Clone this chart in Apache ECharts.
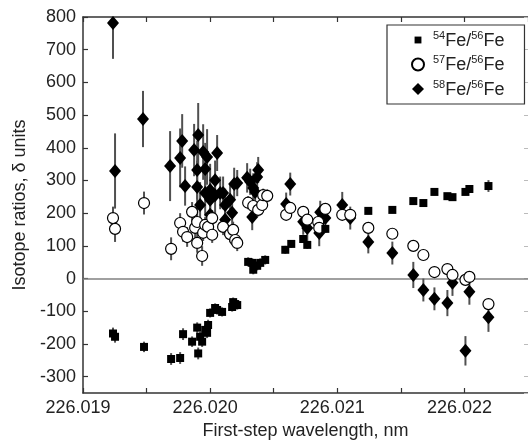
<!DOCTYPE html>
<html><head><meta charset="utf-8">
<script src="https://cdn.jsdelivr.net/npm/echarts@6/dist/echarts.min.js"></script>
<style>html,body{margin:0;padding:0;background:#fff}#c{width:528px;height:445px}</style>
</head><body><div id="c"></div>
<script>
// 54Fe/56Fe (squares)
const fe54X = [226.019236,226.019252,226.019480,226.019693,226.019764,226.019787,226.019858,226.019898,226.019906,226.019921,226.019937,226.019961,226.019976,226.019984,226.020000,226.020039,226.020055,226.020094,226.020173,226.020181,226.020197,226.020213,226.020299,226.020331,226.020339,226.020370,226.020394,226.020433,226.020591,226.020638,226.020732,226.020764,226.020906,226.021244,226.021433,226.021598,226.021677,226.021764,226.021866,226.021906,226.022008,226.022039,226.022189];
const fe54Y = [-168,-178,-209,-246,-243,-170,-193,-150,-229,-178,-193,-157,-166,-142,-105,-90,-96,-102,-87,-72,-78,-81,51,48,27,39,48,57,88,106,121,103,152,207,210,237,231,265,252,249,265,274,283];
const fe54Err = [18,18,16,18,18,18,16,16,18,16,16,16,16,16,14,14,14,14,14,14,14,14,14,14,14,14,14,14,12,12,12,12,12,10,10,10,10,10,10,10,10,10,18];

// 57Fe/56Fe (open circles)
const fe57X = [226.019236,226.019252,226.019480,226.019693,226.019764,226.019787,226.019819,226.019858,226.019882,226.019898,226.019898,226.019937,226.019945,226.019961,226.019984,226.020016,226.020016,226.020102,226.020157,226.020181,226.020197,226.020213,226.020299,226.020339,226.020378,226.020409,226.020417,226.020449,226.020598,226.020630,226.020732,226.020764,226.020850,226.020858,226.020906,226.021039,226.021102,226.021244,226.021433,226.021598,226.021677,226.021764,226.021866,226.021906,226.022008,226.022039,226.022189];
const fe57Y = [185,152,231,91,170,143,127,204,155,173,109,69,140,164,158,185,134,158,136,149,118,109,232,222,210,225,255,253,195,216,204,180,173,155,213,195,195,155,137,100,72,20,29,11,-4,5,-78];
const fe57Err = [35,40,35,35,30,30,30,30,30,30,30,30,25,25,25,25,25,25,25,25,25,25,20,20,20,20,20,20,15,15,15,15,15,15,15,15,15,12,12,12,12,12,12,12,12,12,12];

// 58Fe/56Fe (filled diamonds)
const fe58X = [226.019236,226.019252,226.019472,226.019685,226.019764,226.019780,226.019803,226.019874,226.019898,226.019898,226.019906,226.019921,226.019945,226.019961,226.019961,226.019976,226.020000,226.020000,226.020000,226.020039,226.020039,226.020055,226.020079,226.020102,226.020118,226.020118,226.020157,226.020173,226.020189,226.020213,226.020291,226.020315,226.020331,226.020339,226.020354,226.020370,226.020378,226.020598,226.020630,226.020732,226.020764,226.020858,226.020866,226.020906,226.021039,226.021102,226.021244,226.021433,226.021598,226.021677,226.021764,226.021866,226.021906,226.022008,226.022039,226.022189];
const fe58Y = [782,329,488,344,369,421,283,393,332,280,439,225,387,335,262,372,271,241,195,301,255,384,262,262,225,180,241,201,289,292,308,296,188,277,265,311,332,228,289,174,155,139,203,185,225,185,112,78,11,-35,-62,-75,-13,-221,-40,-118];
const fe58Err = [110,115,86,107,90,82,60,80,90,80,98,70,85,80,70,85,80,70,60,60,60,55,50,50,50,50,50,50,50,40,45,40,40,45,40,45,40,35,35,40,40,40,35,35,40,35,35,35,40,35,35,40,40,45,40,45];

const yTicks = [-300,-200,-100,0,100,200,300,400,500,600,700,800];
const xTickLabels = ['226.019','226.020','226.021','226.022'];

function pts(xs, ys, es){ return xs.map((x,i)=>[x, ys[i], es[i]]); }
const d54 = pts(fe54X, fe54Y, fe54Err), d57 = pts(fe57X, fe57Y, fe57Err), d58 = pts(fe58X, fe58Y, fe58Err);

function errSeries(name, data, z){
  return {
    type:'custom', name:name, data:data, clip:true, z:z, silent:true,
    encode:{x:0,y:1},
    renderItem:function(params, api){
      const x=api.value(0), y=api.value(1), e=api.value(2);
      const a=api.coord([x,y-e]), b=api.coord([x,y+e]);
      return {type:'line', shape:{x1:a[0],y1:a[1],x2:b[0],y2:b[1]}, style:{stroke:'#505050', lineWidth:2}};
    }
  };
}

const FONT = 'Liberation Sans, Arial, sans-serif';
const chart = echarts.init(document.getElementById('c'), null, {renderer:'canvas'});
const labelNames = {'54':'{s|54}{t|Fe/}{s|56}{t|Fe}','57':'{s|57}{t|Fe/}{s|56}{t|Fe}','58':'{s|58}{t|Fe/}{s|56}{t|Fe}'};

chart.setOption({
  animation:false,
  grid:{left:83, right:0, top:17, bottom:52},
  xAxis:[{
    type:'value', min:226.019, max:226.0225, interval:0.0005,
    name:'First-step wavelength, nm', nameLocation:'middle', nameGap:21,
    nameTextStyle:{fontFamily:FONT, fontSize:18, color:'#222'},
    axisLine:{show:true, onZero:false, lineStyle:{color:'#333', width:1.5}},
    axisTick:{show:true, inside:true, length:5, lineStyle:{color:'#333', width:1.2}},
    splitLine:{show:false},
    axisLabel:{fontFamily:FONT, fontSize:18, color:'#222', margin:6, padding:[0,10,0,0], showMinLabel:true, showMaxLabel:false,
      formatter:function(v){ const k=Math.round(v*2000); if(k%2!==0) return ''; const s=(k/2000).toFixed(3); return xTickLabels.indexOf(s)>=0 ? s : ''; }}
  },{
    type:'value', position:'top', min:226.019, max:226.0225, interval:0.0005,
    axisLine:{show:true, onZero:false, lineStyle:{color:'#333', width:1.5}},
    axisTick:{show:true, inside:true, length:5, lineStyle:{color:'#333', width:1.2}},
    axisLabel:{show:false}, splitLine:{show:false}
  }],
  yAxis:[{
    type:'value', min:-350, max:800, splitNumber:11,
    name:'Isotope ratios, δ units', nameLocation:'middle', nameGap:50,
    nameTextStyle:{fontFamily:FONT, fontSize:18, color:'#222'},
    axisLine:{show:true, onZero:false, lineStyle:{color:'#333', width:1.5}},
    axisTick:{show:true, inside:true, length:5, lineStyle:{color:'#333', width:1.2}},
    splitLine:{show:false},
    axisLabel:{fontFamily:FONT, fontSize:18, color:'#222', margin:7, showMinLabel:false,
      formatter:function(v){ return yTicks.indexOf(Math.round(v))>=0 ? String(Math.round(v)) : ''; }}
  },{
    type:'value', position:'right', min:-350, max:800, splitNumber:11,
    axisLine:{show:false},
    axisTick:{show:true, inside:true, length:4, lineStyle:{color:'#bbb', width:1}},
    axisLabel:{show:false}, splitLine:{show:false}
  }],
  legend:{
    show:true, left:387, top:25, orient:'vertical',
    data:[
      {name:'54Fe/56Fe', icon:'path://M0,0 L0,0 M3,3 L11,3 L11,11 L3,11 Z M14,14 L14,14'},
      {name:'57Fe/56Fe'},
      {name:'58Fe/56Fe'}
    ],
    backgroundColor:'#fff', borderColor:'#333', borderWidth:1.2, borderRadius:0,
    padding:[5,20,5,24], itemGap:4.5, itemWidth:12, itemHeight:12,
    formatter:function(n){ return labelNames[n.slice(0,2)]; },
    textStyle:{fontFamily:FONT, color:'#222', padding:[0,0,0,4],
      rich:{ t:{fontFamily:FONT, fontSize:18, color:'#222', lineHeight:20, verticalAlign:'bottom'},
             s:{fontFamily:FONT, fontSize:11, color:'#222', lineHeight:20, verticalAlign:'top', padding:[0,0,6,0]} }}
  },
  series:[
    errSeries('e58', d58, 2),
    errSeries('e57', d57, 2),
    errSeries('e54', d54, 2),
    { type:'scatter', name:'58Fe/56Fe', data:d58, symbol:'diamond', symbolSize:[12,14], z:3,
      itemStyle:{color:'#000', opacity:1}, encode:{x:0,y:1},
      markLine:{silent:true, symbol:'none', label:{show:false}, lineStyle:{color:'#808080', width:1.6, type:'solid'}, data:[{yAxis:0}], z:1}
    },
    { type:'scatter', name:'57Fe/56Fe', data:d57, symbol:'circle', symbolSize:11, z:4,
      itemStyle:{color:'#fff', borderColor:'#000', borderWidth:1.2, opacity:1}, encode:{x:0,y:1} },
    { type:'scatter', name:'54Fe/56Fe', data:d54, symbol:'rect', symbolSize:8, z:5,
      itemStyle:{color:'#000', opacity:1}, encode:{x:0,y:1} }
  ]
});
</script></body></html>
